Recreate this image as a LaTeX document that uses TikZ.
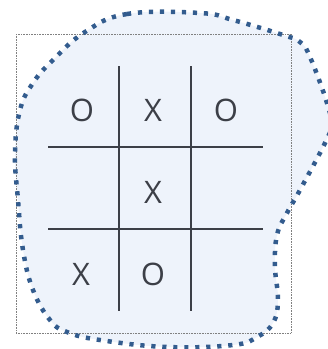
\documentclass[tikz,border=0pt]{standalone}
\usepackage{fontspec}
\setmainfont{Open Sans}
\definecolor{blobline}{HTML}{335C8E}
\definecolor{blobfill}{HTML}{EEF3FB}
\definecolor{ink}{HTML}{3C3F47}
\begin{document}
\begin{tikzpicture}[x=1pt,y=-1pt,
  gridline/.style={draw=ink,line width=1.8pt},
  glyph/.style={text=ink,font=\fontsize{31}{31}\selectfont,inner sep=0pt,anchor=center},
  frame/.style={draw=gray,line width=0.6pt,densely dotted},
  blob/.style={draw=blobline,line width=4.5pt,dash pattern=on 4.2pt off 6.8pt}]
\useasboundingbox (0,0) rectangle (328,349);
\def\blobpath{plot[smooth cycle,tension=0.7] coordinates {
 (85,32) (127,14) (200,13) (233,20) (283,35) (300,42) (310,57) (327,103) (331,125)
 (325,143) (300,190) (287,213) (277,235) (275,267) (278,300) (273,323) (257,337)
 (233,345) (167,347) (100,340) (67,332) (50,320) (33,290) (23,250) (18,200)
 (15,153) (20,110) (33,83) (53,60)}}
\fill[blobfill] \blobpath;
\draw[frame] (16,34) rectangle (291,333);
\draw[blob] \blobpath;
\coordinate (v1t) at (119,66); \coordinate (v1b) at (119,311);
\coordinate (v2t) at (191,66); \coordinate (v2b) at (191,311);
\coordinate (h1l) at (48,147); \coordinate (h1r) at (263,147);
\coordinate (h2l) at (48,229); \coordinate (h2r) at (263,229);
\draw[gridline] (v1t) -- (v1b);
\draw[gridline] (v2t) -- (v2b);
\draw[gridline] (h1l) -- (h1r);
\draw[gridline] (h2l) -- (h2r);
\node[glyph] (c11) at (82,110) {O};
\node[glyph] (c12) at (153,110) {X};
\node[glyph] (c13) at (226,110) {O};
\node[glyph] (c22) at (153,192) {X};
\node[glyph] (c31) at (81,274) {X};
\node[glyph] (c32) at (153,274) {O};
\end{tikzpicture}
\end{document}
